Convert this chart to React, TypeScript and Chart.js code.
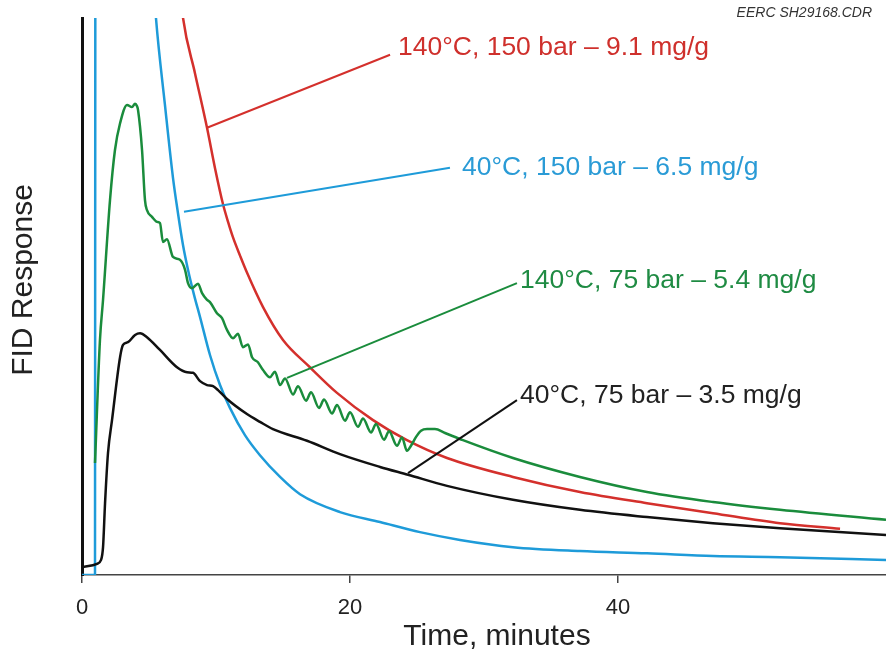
import React, { useEffect, useRef } from 'react';
import { Chart, registerables } from 'chart.js';

Chart.register(...registerables);

const FONT = '"Liberation Sans", Arial, Helvetica, sans-serif';

// x tick labels (minutes)
const xTickValues = [0, 20, 40];

// series labels
const seriesLabels = [
  '140°C, 150 bar – 9.1 mg/g',
  '40°C, 150 bar – 6.5 mg/g',
  '140°C, 75 bar – 5.4 mg/g',
  '40°C, 75 bar – 3.5 mg/g',
];
const lineColors = ['#d4302c', '#1e9bd9', '#1a8c3c', '#111111'];
const textColors = ['#cf302c', '#2a9bd6', '#1f8b43', '#222222'];

// 140°C, 150 bar (red)
const redTime = [7.2, 7.54, 8.43, 9.33, 9.93, 10.52, 10.90, 11.27, 11.80, 12.31, 13.51, 15.0, 17.01, 19.03, 21.72, 24.25, 27.24, 32.16, 37.16, 42.16, 47.09, 52.09, 56.57];
const redResp = [108, 100.0, 90.1, 80.3, 73.0, 66.6, 63.4, 60.6, 57.3, 54.3, 48.1, 42.2, 37.3, 32.7, 27.8, 24.2, 21.0, 17.6, 14.9, 12.9, 11.1, 9.3, 8.3];

// 40°C, 150 bar (blue)
const blueTime = [0, 0.97, 1.0, 3.0, 5.1, 5.52, 6.19, 6.79, 7.16, 7.54, 7.91, 8.36, 8.81, 9.55, 10.30, 11.04, 12.16, 13.28, 14.78, 16.27, 19.25, 22.24, 25.22, 28.21, 32.16, 37.16, 42.16, 47.09, 52.09, 60.0];
const blueResp = [0, 0, 130, 140, 115, 100, 84.4, 71.3, 65.0, 59.2, 54.8, 50.3, 46.3, 39.5, 34.1, 30.0, 25.1, 21.5, 17.6, 14.5, 11.3, 9.5, 7.7, 6.3, 5.0, 4.3, 3.9, 3.4, 3.2, 2.7];

// 140°C, 75 bar (green)
const greenTime = [0.97, 1.34, 1.57, 2.09, 2.46, 2.84, 3.36, 3.73, 3.96, 4.10, 4.18, 4.48, 4.70, 4.85, 5.22, 5.60, 5.82, 6.04, 6.34, 6.79, 7.31, 7.69, 7.91, 8.21, 8.66, 8.96, 9.33, 9.55, 10.07, 10.45, 10.82, 11.27, 11.64, 12.01, 12.39, 12.69, 13.13, 13.51, 14.03, 14.40, 14.78, 15.15, 15.75, 16.12, 16.72, 17.09, 17.69, 18.06, 18.66, 19.03, 19.63, 20.00, 20.60, 20.97, 21.57, 21.94, 22.54, 22.91, 23.51, 23.88, 24.25, 24.55, 24.93, 25.30, 25.75, 26.34, 27.09, 28.43, 32.16, 37.16, 42.16, 47.09, 52.09, 60.0];
const greenResp = [20.1, 42.2, 49.4, 67.3, 76.3, 81.1, 84.4, 84.0, 84.6, 84.2, 83.5, 76.3, 67.3, 65.5, 64.3, 63.4, 63.2, 59.8, 60.3, 57.1, 56.6, 54.8, 52.4, 51.5, 52.3, 50.6, 49.4, 49.0, 47.0, 46.1, 44.0, 42.5, 43.3, 40.9, 41.4, 39.1, 38.2, 36.8, 35.5, 36.5, 34.1, 35.3, 32.4, 33.9, 31.3, 32.8, 30.0, 31.5, 29.0, 30.5, 27.7, 29.2, 26.6, 28.1, 25.6, 27.1, 24.3, 25.8, 23.2, 24.7, 22.3, 23.2, 24.8, 25.9, 26.2, 26.2, 25.5, 24.2, 21.0, 17.6, 14.9, 13.1, 11.7, 9.9];

// 40°C, 75 bar (black)
const blackTime = [0, 1.12, 1.42, 1.57, 1.72, 1.94, 2.24, 2.84, 3.06, 3.43, 3.96, 4.33, 4.85, 5.82, 7.09, 7.84, 8.28, 8.81, 9.33, 9.78, 10.15, 10.82, 12.31, 13.28, 14.25, 16.79, 19.25, 22.24, 24.33, 27.24, 32.16, 37.16, 42.16, 47.09, 52.09, 60.0];
const blackResp = [1.4, 2.0, 2.7, 5.0, 12.9, 21.9, 27.8, 39.1, 41.3, 41.8, 43.1, 43.4, 42.7, 40.4, 37.3, 36.4, 36.3, 34.8, 34.1, 33.9, 33.2, 31.6, 28.9, 27.5, 26.2, 24.1, 21.7, 19.4, 18.0, 16.0, 13.5, 11.7, 10.4, 9.3, 8.4, 7.2];

// label leader lines (time, response) and text anchors
const leaderStart = [[9.33, 80.3], [7.61, 65.2], [15.3, 35.4], [24.33, 18.3]];
const leaderEnd = [[22.99, 93.4], [27.46, 73.1], [32.46, 52.4], [32.46, 31.4]];
const textAnchor = [[23.58, 94.6], [28.36, 73.2], [32.69, 52.9], [32.69, 32.2]];

const zip = (t: number[], v: number[]) => t.map((x, i) => ({ x, y: v[i] }));

const annotPlugin = {
  id: 'annot',
  afterDatasetsDraw(chart: any) {
    const { ctx } = chart;
    const xs = chart.scales.x;
    const ys = chart.scales.y;
    ctx.save();
    for (let i = 0; i < seriesLabels.length; i++) {
      ctx.strokeStyle = lineColors[i];
      ctx.lineWidth = 2;
      ctx.beginPath();
      ctx.moveTo(xs.getPixelForValue(leaderStart[i][0]), ys.getPixelForValue(leaderStart[i][1]));
      ctx.lineTo(xs.getPixelForValue(leaderEnd[i][0]), ys.getPixelForValue(leaderEnd[i][1]));
      ctx.stroke();
      ctx.fillStyle = textColors[i];
      ctx.font = `26.5px ${FONT}`;
      ctx.textAlign = 'left';
      ctx.textBaseline = 'middle';
      ctx.fillText(seriesLabels[i], xs.getPixelForValue(textAnchor[i][0]), ys.getPixelForValue(textAnchor[i][1]));
    }
    // axis titles
    ctx.fillStyle = '#222';
    ctx.font = `30px ${FONT}`;
    ctx.textAlign = 'center';
    ctx.textBaseline = 'middle';
    ctx.fillText('Time, minutes', 497, 637);
    ctx.save();
    ctx.translate(24, 280);
    ctx.rotate(-Math.PI / 2);
    ctx.fillText('FID Response', 0, 0);
    ctx.restore();
    // file note
    ctx.font = `italic 14px ${FONT}`;
    ctx.fillStyle = '#333';
    ctx.textAlign = 'right';
    ctx.fillText('EERC SH29168.CDR', 872, 13);
    ctx.restore();
  },
};

export default function App() {
  const ref = useRef<HTMLCanvasElement | null>(null);
  useEffect(() => {
    document.body.style.margin = '0';
    const canvas = ref.current;
    if (!canvas) return;
    const mk = (label: string, t: number[], v: number[], color: string) => ({
      label,
      data: zip(t, v),
      borderColor: color,
      backgroundColor: color,
      borderWidth: 2.5,
      pointRadius: 0,
      fill: false,
      cubicInterpolationMode: 'monotone' as const,
      clip: 0,
    });
    const chart = new Chart(canvas, {
      type: 'line',
      data: {
        datasets: [
          mk(seriesLabels[3], blackTime, blackResp, lineColors[3]),
          mk(seriesLabels[2], greenTime, greenResp, lineColors[2]),
          mk(seriesLabels[0], redTime, redResp, lineColors[0]),
          mk(seriesLabels[1], blueTime, blueResp, lineColors[1]),
        ],
      },
      options: {
        responsive: false,
        animation: false,
        devicePixelRatio: 1,
        layout: { padding: { top: 18, left: 0, right: 0, bottom: 0 } },
        plugins: {
          legend: { display: false },
          tooltip: { enabled: false },
          title: { display: false },
        },
        scales: {
          x: {
            type: 'linear',
            min: 0,
            max: 60,
            afterFit: (s: any) => {
              s.height = 84;
            },
            ticks: {
              stepSize: 20,
              autoSkip: false,
              maxRotation: 0,
              padding: 12,
              color: '#222',
              font: { size: 22, family: FONT },
              callback: (v: any) => (xTickValues.includes(Number(v)) ? String(v) : null),
            },
            grid: { display: true, drawOnChartArea: false, drawTicks: true, tickLength: 8, color: '#444', lineWidth: 1.5 },
            border: { display: true, color: '#444', width: 1.5 },
          },
          y: {
            type: 'linear',
            min: 0,
            max: 100,
            afterFit: (s: any) => {
              s.width = 82;
            },
            ticks: { display: false },
            grid: { display: false },
            border: { display: true, color: '#111', width: 3 },
          },
        },
      },
      plugins: [annotPlugin],
    });
    return () => chart.destroy();
  }, []);
  return (
    <div style={{ width: 886, height: 659 }}>
      <canvas ref={ref} width={886} height={659} style={{ display: 'block' }} />
    </div>
  );
}
